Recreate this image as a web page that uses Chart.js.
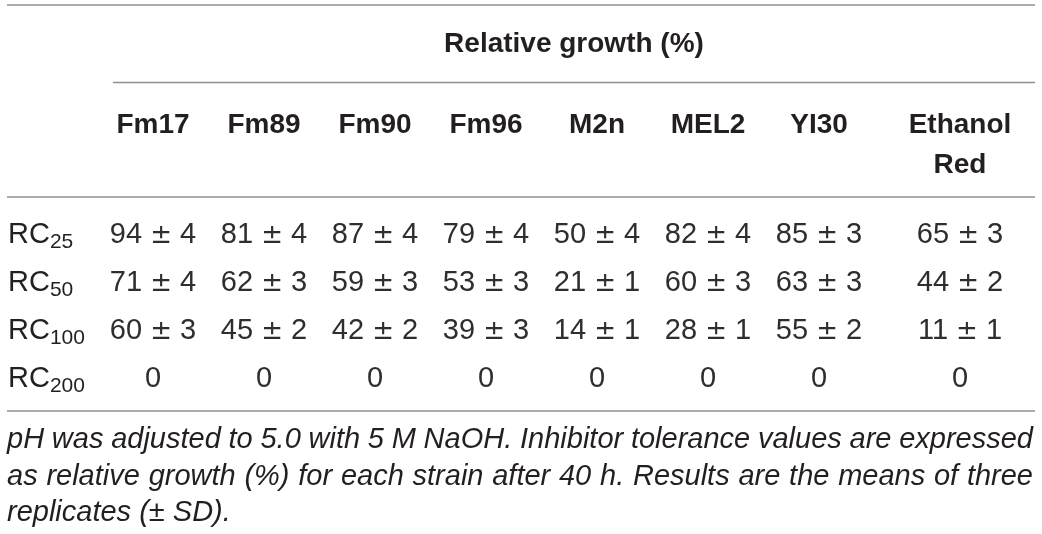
<!DOCTYPE html>
<html>
<head>
<meta charset="utf-8">
<script src="https://cdn.jsdelivr.net/npm/chart.js@4.4.1/dist/chart.umd.min.js"></script>
<style>
  html, body { margin: 0; padding: 0; background: #fff; }
  #wrap { width: 1042px; height: 534px; position: relative; }
</style>
</head>
<body>
<div id="wrap"><canvas id="table"></canvas></div>
<script>
// table content
const spanTitle = 'Relative growth (%)';
const strains = ['Fm17', 'Fm89', 'Fm90', 'Fm96', 'M2n', 'MEL2', 'YI30', 'Ethanol Red'];
const rowPrefix = 'RC';
const concentrations = ['25', '50', '100', '200'];

const rc25Mean = [94, 81, 87, 79, 50, 82, 85, 65];
const rc25Sd = [4, 4, 4, 4, 4, 4, 3, 3];
const rc50Mean = [71, 62, 59, 53, 21, 60, 63, 44];
const rc50Sd = [4, 3, 3, 3, 1, 3, 3, 2];
const rc100Mean = [60, 45, 42, 39, 14, 28, 55, 11];
const rc100Sd = [3, 2, 2, 3, 1, 1, 2, 1];
const rc200Mean = [0, 0, 0, 0, 0, 0, 0, 0];
const rc200Sd = [null, null, null, null, null, null, null, null];

const footnote = [
  'pH was adjusted to 5.0 with 5 M NaOH. Inhibitor tolerance values are expressed',
  'as relative growth (%) for each strain after 40 h. Results are the means of three',
  'replicates (\u00b1 SD).',
];

const means = [rc25Mean, rc50Mean, rc100Mean, rc200Mean];
const sds = [rc25Sd, rc50Sd, rc100Sd, rc200Sd];

// layout (page pixels)
const layout = {
  width: 1042,
  height: 534,
  left: 7,
  right: 1035,
  labelX: 8,
  tableLeft: 97.5,
  colWidths: [111, 111, 111, 111, 111, 111, 111, 171],
  spanRuleLeft: 113,
  topRule: 5,
  spanRule: 82.5,
  headRule: 197,
  bottomRule: 411,
  spanBaseline: 52,
  headBaseline: 133,
  headLineGap: 40,
  firstRow: 243,
  rowPitch: 48,
  noteBaselines: [448, 484.5, 521],
};

const ink = '#231f20';
const cellInk = '#2e2e2e';
const ruleColor = '#8f8f8f';
const sans = '"Liberation Sans", Arial, Helvetica, sans-serif';
const boldFont = 'bold 28px ' + sans;
const cellFont = '29px ' + sans;
const pmFont = '26px "DejaVu Sans", sans-serif';
const subFont = '21px ' + sans;
const noteFont = 'italic 29px ' + sans;

const colCenters = [];
let edge = layout.tableLeft;
layout.colWidths.forEach((w) => {
  colCenters.push(edge + w / 2);
  edge += w;
});

const cells = [];
means.forEach((row, r) => {
  row.forEach((m, c) => {
    cells.push({ x: colCenters[c], y: layout.firstRow + r * layout.rowPitch, mean: m, sd: sds[r][c] });
  });
});

function hRule(ctx, x, y, from, to, at) {
  ctx.beginPath();
  ctx.moveTo(x.getPixelForValue(from), y.getPixelForValue(at));
  ctx.lineTo(x.getPixelForValue(to), y.getPixelForValue(at));
  ctx.stroke();
}

function drawRun(ctx, parts, cx, baseline) {
  let total = 0;
  parts.forEach((p) => {
    ctx.font = p.font;
    p.w = ctx.measureText(p.text).width;
    total += p.w;
  });
  let px = cx - total / 2;
  parts.forEach((p) => {
    ctx.font = p.font;
    ctx.fillText(p.text, px, baseline);
    px += p.w;
  });
}

function justifyLine(ctx, text, left, right, baseline) {
  const words = text.split(' ');
  const wordWidths = words.map((w) => ctx.measureText(w).width);
  const used = wordWidths.reduce((s, v) => s + v, 0);
  const target = right - left;
  const gap = (target - used) / (words.length - 1);
  const minGap = ctx.measureText(' ').width * 0.6;
  if (gap < minGap) {
    ctx.fillText(text, left, baseline, target);
    return;
  }
  let px = left;
  words.forEach((w, i) => {
    ctx.fillText(w, px, baseline);
    px += wordWidths[i] + gap;
  });
}

const tablePlugin = {
  id: 'tableText',
  afterDatasetsDraw(chart) {
    const { ctx, scales: { x, y } } = chart;
    ctx.save();

    // rules
    ctx.strokeStyle = ruleColor;
    ctx.lineWidth = 1.6;
    hRule(ctx, x, y, layout.left, layout.right, layout.topRule);
    hRule(ctx, x, y, layout.spanRuleLeft, layout.right, layout.spanRule);
    hRule(ctx, x, y, layout.left, layout.right, layout.headRule);
    hRule(ctx, x, y, layout.left, layout.right, layout.bottomRule);

    // spanning header
    ctx.fillStyle = ink;
    ctx.textBaseline = 'alphabetic';
    ctx.textAlign = 'center';
    ctx.font = boldFont;
    ctx.fillText(spanTitle, x.getPixelForValue((layout.spanRuleLeft + layout.right) / 2), y.getPixelForValue(layout.spanBaseline));

    // column headers, wrapped when wider than the column
    strains.forEach((name, c) => {
      const lines = ctx.measureText(name).width > layout.colWidths[c] - 20 ? name.split(' ') : [name];
      lines.forEach((line, i) => {
        ctx.fillText(line, x.getPixelForValue(colCenters[c]), y.getPixelForValue(layout.headBaseline + i * layout.headLineGap));
      });
    });

    // row labels with subscripts
    ctx.textAlign = 'left';
    concentrations.forEach((sub, r) => {
      const base = y.getPixelForValue(layout.firstRow + r * layout.rowPitch);
      const lx = x.getPixelForValue(layout.labelX);
      ctx.font = cellFont;
      ctx.fillText(rowPrefix, lx, base);
      const w = ctx.measureText(rowPrefix).width;
      ctx.font = subFont;
      ctx.fillText(sub, lx + w, base + 5);
    });

    // cells
    ctx.fillStyle = cellInk;
    const meta = chart.getDatasetMeta(0);
    meta.data.forEach((pt, i) => {
      const cell = cells[i];
      const parts = [{ text: String(cell.mean), font: cellFont }];
      if (cell.sd !== null) {
        parts.push({ text: ' ', font: cellFont }, { text: '\u00b1', font: pmFont }, { text: ' ' + cell.sd, font: cellFont });
      }
      drawRun(ctx, parts, pt.x, pt.y);
    });

    // footnote
    ctx.fillStyle = ink;
    ctx.font = noteFont;
    const nl = x.getPixelForValue(layout.left);
    const nr = x.getPixelForValue(layout.right - 2);
    footnote.forEach((line, i) => {
      const base = y.getPixelForValue(layout.noteBaselines[i]);
      if (i < footnote.length - 1) {
        justifyLine(ctx, line, nl, nr, base);
      } else {
        ctx.fillText(line, nl, base);
      }
    });

    ctx.restore();
  },
};

new Chart(document.getElementById('table'), {
  type: 'scatter',
  data: {
    datasets: [{
      data: cells.map((c) => ({ x: c.x, y: c.y })),
      pointRadius: 0,
      pointHoverRadius: 0,
    }],
  },
  options: {
    responsive: true,
    maintainAspectRatio: false,
    animation: false,
    layout: { padding: 0 },
    plugins: { legend: { display: false }, tooltip: { enabled: false } },
    events: [],
    scales: {
      x: { type: 'linear', min: 0, max: layout.width, display: false },
      y: { type: 'linear', min: 0, max: layout.height, reverse: true, display: false },
    },
  },
  plugins: [tablePlugin],
});
</script>
</body>
</html>
